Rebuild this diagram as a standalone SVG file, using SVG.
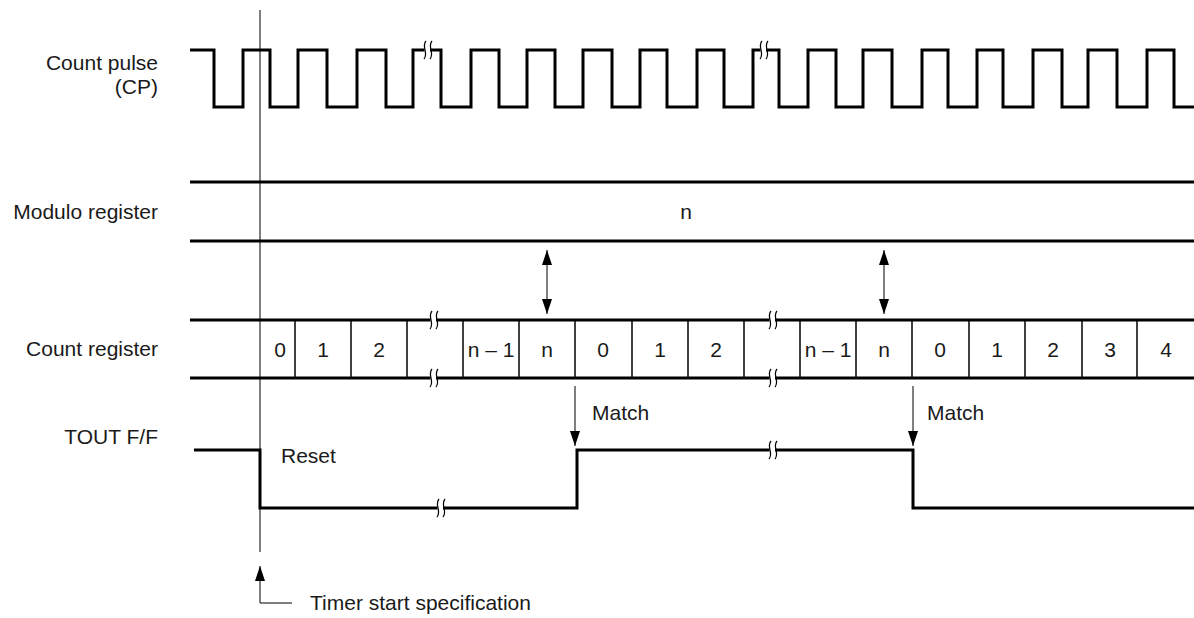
<svg xmlns="http://www.w3.org/2000/svg" xmlns:xlink="http://www.w3.org/1999/xlink" width="1194" height="618" viewBox="0 0 1194 618">
<style>
  text { font-family: "Liberation Sans", Arial, sans-serif; font-size: 21px; fill: #1a1a1a; }
  .lbl { text-anchor: end; }
  .cell { text-anchor: middle; }
  .sig { fill: none; stroke: #000; stroke-width: 3; }
  .div { stroke: #000; stroke-width: 1.5; }
  .thin { fill: none; stroke: #000; stroke-width: 1; }
  .brkc { fill: none; stroke: #000; stroke-width: 1.2; }
</style>
<defs>
  <marker id="ah" viewBox="0 0 15 10" refX="15" refY="5" markerWidth="15" markerHeight="10" markerUnits="userSpaceOnUse" orient="auto-start-reverse">
    <path d="M0,0 L15,5 L0,10 z" fill="#000"/>
  </marker>
  <g id="brk">
    <rect x="-2.5" y="-3" width="5.5" height="6" fill="#fff"/>
    <path class="brkc" d="M-1,-9 C-6,-3 2,3 -3,9"/>
    <path class="brkc" d="M5,-9 C0,-3 8,3 3,9"/>
  </g>
</defs>
<rect width="1194" height="618" fill="#fff"/>

<g id="timer-line">
  <line class="thin" x1="260" y1="10" x2="260" y2="552"/>
</g>

<g id="count-pulse">
  <text class="lbl" x="158" y="70">Count pulse</text>
  <text class="lbl" x="158" y="94">(CP)</text>
  <path class="sig" d="M190,50 H214 V107 H243 V50 H270 V107 H298 V50 H327 V107 H357 V50 H386 V107 H413 V50 H441 V107 H471 V50 H499 V107 H527 V50 H555 V107 H583 V50 H612 V107 H640 V50 H667 V107 H697 V50 H724 V107 H753 V50 H779 V107 H808 V50 H836 V107 H863 V50 H892 V107 H922 V50 H948 V107 H977 V50 H1003 V107 H1033 V50 H1062 V107 H1088 V50 H1117 V107 H1147 V50 H1174 V107 H1194"/>
  <use xlink:href="#brk" x="427" y="50"/>
  <use xlink:href="#brk" x="763" y="50"/>
</g>

<g id="modulo-register">
  <text class="lbl" x="158" y="219">Modulo register</text>
  <line class="sig" x1="190" y1="182" x2="1194" y2="182"/>
  <line class="sig" x1="190" y1="241" x2="1194" y2="241"/>
  <text class="cell" x="686" y="219">n</text>
</g>

<g id="count-register">
  <text class="lbl" x="158" y="356">Count register</text>
  <line class="sig" x1="190" y1="320" x2="1194" y2="320"/>
  <line class="sig" x1="190" y1="378" x2="1194" y2="378"/>
  <g class="div">
    <line x1="295" y1="320" x2="295" y2="378"/>
    <line x1="351" y1="320" x2="351" y2="378"/>
    <line x1="407" y1="320" x2="407" y2="378"/>
    <line x1="463" y1="320" x2="463" y2="378"/>
    <line x1="519" y1="320" x2="519" y2="378"/>
    <line x1="575" y1="320" x2="575" y2="378"/>
    <line x1="632" y1="320" x2="632" y2="378"/>
    <line x1="688" y1="320" x2="688" y2="378"/>
    <line x1="744" y1="320" x2="744" y2="378"/>
    <line x1="800" y1="320" x2="800" y2="378"/>
    <line x1="856" y1="320" x2="856" y2="378"/>
    <line x1="912" y1="320" x2="912" y2="378"/>
    <line x1="969" y1="320" x2="969" y2="378"/>
    <line x1="1025" y1="320" x2="1025" y2="378"/>
    <line x1="1082" y1="320" x2="1082" y2="378"/>
    <line x1="1137" y1="320" x2="1137" y2="378"/>
  </g>
  <text class="cell" x="280" y="357">0</text>
  <text class="cell" x="323" y="357">1</text>
  <text class="cell" x="379" y="357">2</text>
  <text class="cell" x="491" y="357">n – 1</text>
  <text class="cell" x="547" y="357">n</text>
  <text class="cell" x="603" y="357">0</text>
  <text class="cell" x="660" y="357">1</text>
  <text class="cell" x="716" y="357">2</text>
  <text class="cell" x="828" y="357">n – 1</text>
  <text class="cell" x="884" y="357">n</text>
  <text class="cell" x="940" y="357">0</text>
  <text class="cell" x="997" y="357">1</text>
  <text class="cell" x="1053" y="357">2</text>
  <text class="cell" x="1110" y="357">3</text>
  <text class="cell" x="1166" y="357">4</text>
  <use xlink:href="#brk" x="433" y="320"/>
  <use xlink:href="#brk" x="433" y="378"/>
  <use xlink:href="#brk" x="772" y="320"/>
  <use xlink:href="#brk" x="772" y="378"/>
</g>

<g id="tout-ff">
  <text class="lbl" x="158" y="444">TOUT F/F</text>
  <path class="sig" d="M194,450 H260 V508 H577 V450 H913 V508 H1194"/>
  <use xlink:href="#brk" x="440" y="508"/>
  <use xlink:href="#brk" x="772" y="450"/>
  <text x="281" y="463">Reset</text>
  <text x="592" y="420">Match</text>
  <text x="927" y="420">Match</text>
</g>

<g id="timer-start">
  <text x="310" y="610">Timer start specification</text>
</g>

<g id="connectors">
  <line class="thin" x1="547" y1="250" x2="547" y2="314" marker-start="url(#ah)" marker-end="url(#ah)"/>
  <line class="thin" x1="884" y1="250" x2="884" y2="314" marker-start="url(#ah)" marker-end="url(#ah)"/>
  <line class="thin" x1="575" y1="386" x2="575" y2="446" marker-end="url(#ah)"/>
  <line class="thin" x1="913" y1="386" x2="913" y2="446" marker-end="url(#ah)"/>
  <path class="thin" d="M292,603 H260 V566" marker-end="url(#ah)"/>
</g>
</svg>
